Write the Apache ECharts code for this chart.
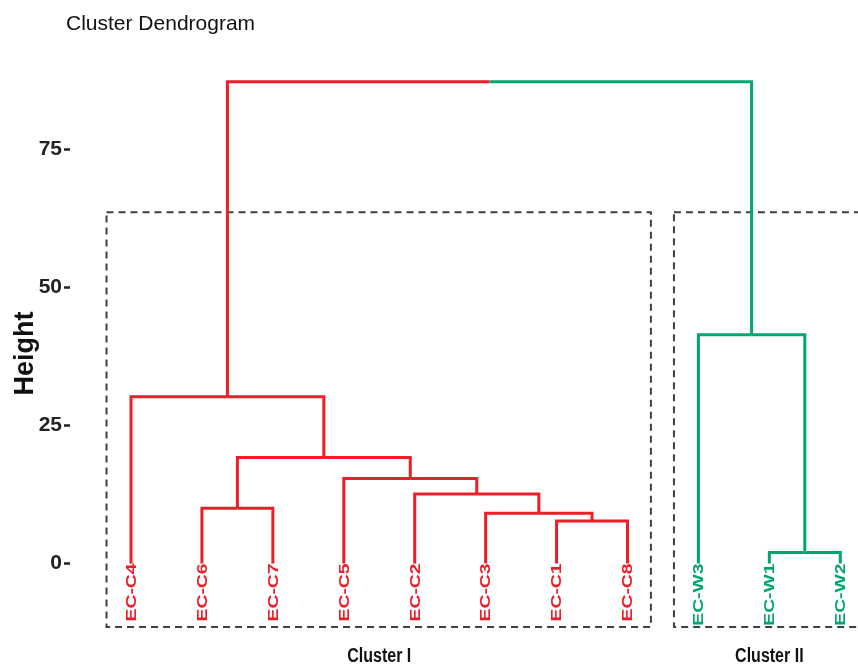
<!DOCTYPE html>
<html>
<head>
<meta charset="utf-8">
<script src="https://cdn.jsdelivr.net/npm/echarts@6/dist/echarts.min.js"></script>
<style>
  html, body { margin: 0; padding: 0; background: #fff; }
  #main { width: 858px; height: 669px; }
</style>
</head>
<body>
<div id="main"></div>
<script>
// leaf order as drawn, left to right
var leaves = ['EC-C4', 'EC-C6', 'EC-C7', 'EC-C5', 'EC-C2', 'EC-C3', 'EC-C1', 'EC-C8', 'EC-W3', 'EC-W1', 'EC-W2'];
var leafCluster = [0, 0, 0, 0, 0, 0, 0, 0, 1, 1, 1];
var clusterNames = ['Cluster I', 'Cluster II'];
var clusterColors = ['#EE1D27', '#00A66C'];
// merges: [left, right, height]; a string is a leaf, a number is an earlier merge
var merges = [
    ['EC-C1', 'EC-C8', 7.7],
    ['EC-W1', 'EC-W2', 2.0],
    ['EC-C3', 0, 9.1],
    ['EC-C6', 'EC-C7', 10.0],
    ['EC-C2', 2, 12.6],
    ['EC-C5', 4, 15.4],
    [3, 5, 19.2],
    ['EC-C4', 6, 30.2],
    ['EC-W3', 1, 41.4],
    [7, 8, 87.2]
];
var yTicks = [0, 25, 50, 75];
var rectTop = 63.6;
var rectBottom = -11.5;

// build tree nodes
var mergeNodes = [];
function getNode(ref) {
    if (typeof ref === 'string') {
        var i = leaves.indexOf(ref);
        return { x: i + 1, h: 0, cluster: leafCluster[i] };
    }
    return mergeNodes[ref];
}
var segments = [];
merges.forEach(function (m) {
    var a = getNode(m[0]), b = getNode(m[1]);
    var node = { x: (a.x + b.x) / 2, h: m[2], cluster: a.cluster === b.cluster ? a.cluster : -1 };
    [a, b].forEach(function (c) {
        segments.push({
            pts: [[node.x, node.h], [c.x, node.h], [c.x, c.h]],
            color: clusterColors[c.cluster]
        });
    });
    mergeNodes.push(node);
});

// cluster boxes from leaf ranges
var boxes = clusterNames.map(function (name, k) {
    var first = leafCluster.indexOf(k) + 1;
    var last = leafCluster.lastIndexOf(k) + 1;
    return { name: name, x0: first - 0.345, x1: last + 0.33, mid: (first + last) / 2 };
});

var myChart = echarts.init(document.getElementById('main'));

var option = {
    animation: false,
    title: {
        text: 'Cluster Dendrogram',
        left: 61,
        top: 9,
        textStyle: {
            fontFamily: 'Liberation Sans',
            fontSize: 21,
            fontWeight: 'normal',
            color: '#111'
        }
    },
    grid: {
        left: 70,
        right: 0,
        top: 66.4,
        bottom: 28.2,
        containLabel: false,
        outerBoundsMode: 'none'
    },
    xAxis: {
        type: 'value',
        min: 0.14,
        max: 11.25,
        show: false
    },
    yAxis: {
        type: 'value',
        min: -14,
        max: 90,
        name: 'Height',
        nameLocation: 'middle',
        nameGap: 31,
        nameMoveOverlap: false,
        nameTextStyle: {
            fontFamily: 'Liberation Sans',
            fontSize: 27,
            fontWeight: 'bold',
            color: '#111'
        },
        axisLine: { show: false },
        splitLine: { show: false },
        axisTick: {
            show: true,
            customValues: yTicks,
            length: 6,
            lineStyle: { color: '#222', width: 2.5 }
        },
        axisLabel: {
            customValues: yTicks,
            margin: 8,
            fontFamily: 'Liberation Sans',
            fontSize: 21,
            fontWeight: 'bold',
            color: '#222'
        }
    },
    series: [
        {
            name: 'boxes',
            type: 'custom',
            silent: true,
            data: boxes.map(function (b) { return [b.x0, rectTop]; }),
            renderItem: function (params, api) {
                var b = boxes[params.dataIndex];
                var p0 = api.coord([b.x0, rectTop]);
                var p1 = api.coord([b.x1, rectBottom]);
                var p2 = api.coord([b.mid, -16.9]);
                return {
                    type: 'group',
                    children: [
                        {
                            type: 'rect',
                            shape: { x: p0[0], y: p0[1], width: p1[0] - p0[0], height: p1[1] - p0[1] },
                            style: { fill: null, stroke: '#3A4242', lineWidth: 2, lineDash: [7, 5] }
                        },
                        {
                            type: 'text',
                            x: p2[0],
                            y: p2[1],
                            scaleY: 1.25,
                            style: {
                                text: b.name,
                                font: 'bold 16px "Liberation Sans"',
                                fill: '#111',
                                align: 'center',
                                verticalAlign: 'middle'
                            }
                        }
                    ]
                };
            }
        },
        {
            name: 'branches',
            type: 'custom',
            silent: true,
            data: segments.map(function (s) { return s.pts[1]; }),
            renderItem: function (params, api) {
                var s = segments[params.dataIndex];
                return {
                    type: 'polyline',
                    shape: { points: s.pts.map(function (p) { return api.coord(p); }) },
                    style: { fill: null, stroke: s.color, lineWidth: 3, lineJoin: 'miter' }
                };
            }
        },
        {
            name: 'leaves',
            type: 'custom',
            silent: true,
            data: leaves.map(function (name, i) { return [i + 1, 0]; }),
            renderItem: function (params, api) {
                var p = api.coord([api.value(0), 0]);
                return {
                    type: 'text',
                    x: p[0] + 1,
                    y: p[1],
                    rotation: Math.PI / 2,
                    scaleX: 1.38,
                    style: {
                        text: leaves[params.dataIndex],
                        font: 'bold 14px "Liberation Sans"',
                        fill: clusterColors[leafCluster[params.dataIndex]],
                        align: 'right',
                        verticalAlign: 'middle'
                    }
                };
            }
        }
    ]
};

myChart.setOption(option);
</script>
</body>
</html>
